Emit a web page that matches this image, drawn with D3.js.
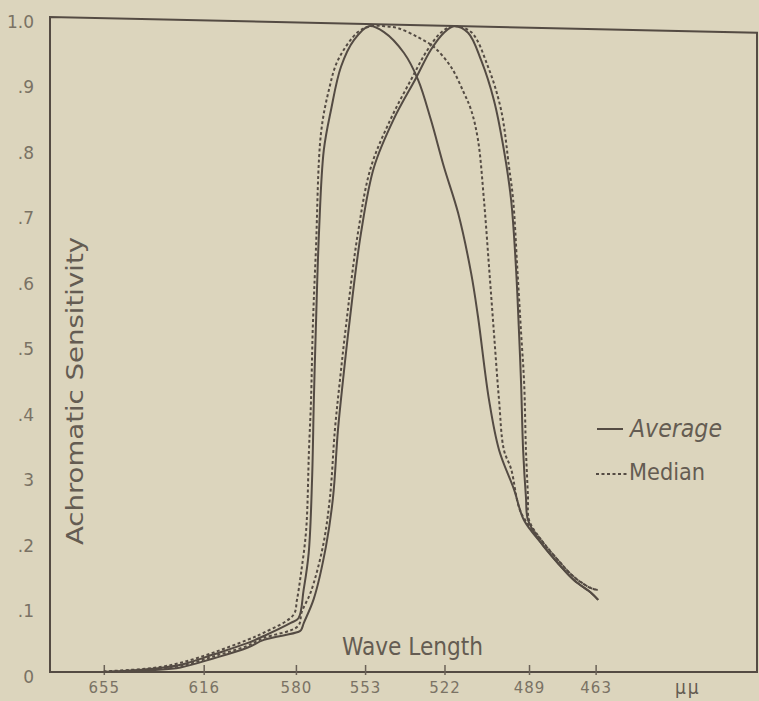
<!DOCTYPE html>
<html>
<head>
<meta charset="utf-8">
<script src="https://d3js.org/d3.v7.min.js"></script>
<style>
    body { margin: 0; background: #dcd5bd; }
    svg { display: block; background: #dcd5bd; }
    .frame { stroke: #544b43; stroke-width: 2px; fill: none; }
    .curve { fill: none; stroke: #544b43; stroke-width: 2px; }
    .curve.median { stroke-dasharray: 3 2.5; }
    .tick text { font-family: "DejaVu Sans", sans-serif; fill: #7a7264; }
    .x-axis .tick text { font-size: 15px; letter-spacing: 1px; }
    .x-axis .tick line { stroke: #6a6157; stroke-width: 1.5px; }
    .y-axis .tick text { font-size: 17px; }
    .label { font-family: "DejaVu Sans Condensed", "DejaVu Sans", sans-serif; fill: #645c52; }
</style>
</head>
<body>
<svg id="chart" width="759" height="701"></svg>
<script>
    // wave length in mμ, achromatic sensitivity 0..1
    const averageLeft = [
        [655, 0], [636, .005], [625, .011], [612, .027], [599, .044], [592.5, .055],
        [582, .075], [579, .082], [577, .125], [575, .182], [573.7, .293], [573, .415],
        [572.2, .527], [571, .670], [569.1, .797], [566.3, .858], [562.4, .924],
        [557.3, .965], [551.5, .986], [545.6, .977], [537.8, .945], [532.3, .904],
        [527.3, .843], [522.2, .771], [516.7, .701], [511.6, .609], [508.9, .542],
        [504.6, .415], [500.7, .339], [494.8, .278], [491, .232], [484.3, .197],
        [477.7, .166], [471.4, .140], [464.8, .121], [462, .11]
    ];
    const averageRight = [
        [655, 0], [636, .003], [625, .007], [612, .021], [599, .037], [592.5, .049],
        [579.2, .061], [578, .064], [576.9, .075], [573, .112],
        [568.3, .191], [565.5, .267], [563.6, .369], [561.6, .446], [559.3, .527],
        [554.6, .670], [549.5, .771], [541.7, .845], [533.1, .907], [527.3, .950],
        [522.2, .976], [518.3, .986], [512.8, .976], [507.7, .934], [502.7, .873],
        [498.8, .797], [496, .721], [494.1, .618], [492.9, .518], [492.1, .441],
        [491.3, .339], [490.2, .267], [489.4, .232], [484.3, .197], [477.7, .166],
        [471.4, .140], [464.8, .121], [462, .11]
    ];
    const medianLeft = [
        [655, .001], [636, .006], [625, .014], [612, .03], [599, .049], [592.5, .06],
        [581, .087], [579.6, .11], [578, .151], [576, .217], [574.9, .339],
        [574.1, .415], [573.4, .527], [572.2, .644], [570.2, .823], [567.1, .889],
        [563.6, .934], [555.8, .977], [550.7, .986], [545.6, .986], [540.2, .983],
        [532.3, .969], [526.1, .954], [519.5, .924], [514.4, .884], [511.6, .858],
        [508.9, .812], [506.6, .721], [504.6, .618], [502.7, .518], [500.7, .415],
        [498.8, .339], [496, .31], [492.1, .243], [484.3, .202], [477.7, .171],
        [471.4, .145], [464.8, .128], [462, .125]
    ];
    const medianRight = [
        [655, 0], [636, .004], [625, .009], [612, .024], [599, .04], [592.5, .052],
        [579.2, .07], [577.7, .092], [574.2, .122], [569.5, .191], [566.7, .267],
        [564.8, .369], [562.8, .446], [560.5, .527], [555.8, .670], [550.7, .771],
        [542.9, .845], [535.1, .904], [528.6, .950], [523.4, .976], [518.7, .986],
        [511.6, .977], [505, .924], [499.9, .858], [496.8, .771], [495.2, .721],
        [493.6, .618], [492.1, .518], [490.9, .441], [490.2, .339], [489.4, .267],
        [489, .232], [484.3, .202], [477.7, .171], [471.4, .145], [464.8, .128],
        [462, .125]
    ];
    const xTicks = [655, 616, 580, 553, 522, 489, 463];
    const yTicks = [0, .1, .2, .3, .4, .5, .6, .7, .8, .9, 1];
    const yLabels = ["0", ".1", ".2", "3", ".4", ".5", ".6", ".7", ".8", ".9", "1.0"];
    const series = [
        { name: "Average", data: averageLeft, cls: "average" },
        { name: "Average", data: averageRight, cls: "average" },
        { name: "Median", data: medianLeft, cls: "median" },
        { name: "Median", data: medianRight, cls: "median" }
    ];

    const svg = d3.select("#chart");
    // wave length runs from long (left) to short (right)
    const x = d3.scaleLinear().domain([676, 400]).range([50, 757]);
    const y = d3.scaleLinear().domain([0, 1]).range([672, 17]);

    // рамка: верх немного скошен, как на скане
    const topRight = 0.976;
    svg.append("path")
        .attr("class", "frame")
        .attr("d", `M${x(676)},${y(0)} L${x(676)},${y(1)} L${x(400)},${y(topRight)} L${x(400)},${y(0)} Z`);

    // x axis
    const xAxis = svg.append("g")
        .attr("class", "x-axis")
        .attr("transform", `translate(0,${y(0)})`)
        .call(d3.axisBottom(x).tickValues(xTicks).tickSize(-7).tickPadding(10).tickFormat(d3.format("d")));
    xAxis.select(".domain").remove();
    xAxis.selectAll(".tick line").attr("y2", -7).attr("y1", 3);

    // y axis
    const yAxis = svg.append("g")
        .attr("class", "y-axis")
        .attr("transform", `translate(${x(676)},0)`)
        .call(d3.axisLeft(y).tickValues(yTicks).tickSize(0).tickPadding(16).tickFormat((d, i) => yLabels[i]));
    yAxis.select(".domain").remove();
    yAxis.selectAll(".tick text").attr("dy", "0.6em");

    // кривые
    const line = d3.line()
        .x(d => x(d[0]))
        .y(d => y(d[1]))
        .curve(d3.curveCatmullRom.alpha(0.5));
    svg.selectAll(".curve")
        .data(series)
        .enter()
        .append("path")
        .attr("class", d => "curve " + d.cls)
        .attr("d", d => line(d.data));

    // axis titles
    svg.append("text")
        .attr("class", "label")
        .attr("transform", `translate(83,545) rotate(-90)`)
        .attr("font-size", 23)
        .attr("textLength", 308)
        .attr("lengthAdjust", "spacingAndGlyphs")
        .text("Achromatic Sensitivity");
    svg.append("text")
        .attr("class", "label")
        .attr("x", 342)
        .attr("y", 655)
        .attr("font-size", 24)
        .attr("textLength", 141)
        .attr("lengthAdjust", "spacingAndGlyphs")
        .text("Wave Length");
    svg.append("text")
        .attr("class", "label")
        .attr("x", x(427))
        .attr("y", 694)
        .attr("text-anchor", "middle")
        .attr("font-size", 19)
        .attr("letter-spacing", 2)
        .attr("fill", "#7a7264")
        .text("μμ");

    // legend
    const legend = svg.append("g");
    legend.append("line").attr("class", "curve average")
        .attr("x1", 597).attr("x2", 623).attr("y1", 429).attr("y2", 429);
    legend.append("text").attr("class", "label")
        .attr("x", 630).attr("y", 437)
        .attr("font-size", 24).attr("font-style", "italic")
        .attr("textLength", 92).attr("lengthAdjust", "spacingAndGlyphs")
        .text("Average");
    legend.append("line").attr("class", "curve median")
        .attr("x1", 596).attr("x2", 628).attr("y1", 474).attr("y2", 474);
    legend.append("text").attr("class", "label")
        .attr("x", 629).attr("y", 480)
        .attr("font-size", 23)
        .attr("textLength", 76).attr("lengthAdjust", "spacingAndGlyphs")
        .text("Median");
</script>
</body>
</html>
